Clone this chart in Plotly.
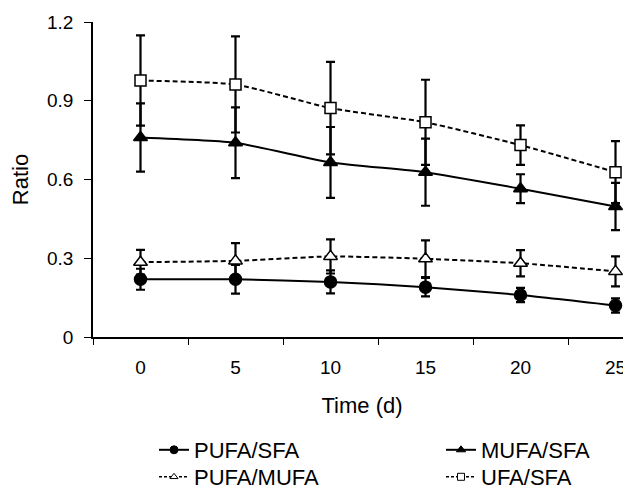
import plotly.graph_objects as go

time_labels = ["0", "5", "10", "15", "20", "25"]

pufa_sfa = [0.22, 0.22, 0.21, 0.19, 0.16, 0.12]
pufa_sfa_err = [0.04, 0.055, 0.044, 0.035, 0.027, 0.027]

mufa_sfa = [0.76, 0.74, 0.665, 0.628, 0.565, 0.497]
mufa_sfa_err = [0.13, 0.135, 0.135, 0.128, 0.055, 0.09]

pufa_mufa = [0.285, 0.29, 0.307, 0.298, 0.281, 0.25]
pufa_mufa_err = [0.047, 0.068, 0.065, 0.07, 0.05, 0.057]

ufa_sfa = [0.977, 0.962, 0.872, 0.818, 0.731, 0.628]
ufa_sfa_err = [0.172, 0.183, 0.176, 0.162, 0.075, 0.118]

FONT = "Liberation Sans, Arial, sans-serif"
FS_TICK = 19
FS_TITLE = 22

# page body has an 8px margin; figure shifted by 8px, so it is narrower
W, H = 623, 492
ML, MT, MB = 85, 14, 163
PW, PH = W - ML, H - MT - MB

series = [
    ("PUFA/SFA", pufa_sfa, pufa_sfa_err, "circle", "black", "solid", "legend", 8),
    ("MUFA/SFA", mufa_sfa, mufa_sfa_err, "triangle-up", "black", "solid", "legend2", 8),
    ("PUFA/MUFA", pufa_mufa, pufa_mufa_err, "triangle-up", "white", "3px,2px", "legend3", 7),
    ("UFA/SFA", ufa_sfa, ufa_sfa_err, "square", "white", "3px,2px", "legend4", 7),
]
main_dash = {"solid": "solid", "3px,2px": "5px,3px"}

fig = go.Figure()
for name, y, err, sym, fill, dash, leg, ls in series:
    fig.add_trace(go.Scatter(
        x=time_labels, y=y, name=name, mode="lines+markers", showlegend=False,
        line=dict(color="black", width=2, dash=main_dash[dash], shape="spline", smoothing=0.5),
        marker=dict(symbol=sym, size=12 if sym != "square" else 11, color=fill,
                    line=dict(color="black", width=1.5)),
        error_y=dict(type="data", array=err, visible=True, color="black", thickness=2.2, width=4.5),
    ))
# legend entries (smaller markers, as in the reference legend)
for name, y, err, sym, fill, dash, leg, ls in series:
    fig.add_trace(go.Scatter(
        x=[None], y=[None], name=name, mode="lines+markers", legend=leg,
        line=dict(color="black", width=1.5 if dash != "solid" else 2, dash=dash),
        marker=dict(symbol=sym, size=ls, color=fill, line=dict(color="black", width=1)),
    ))

legend_common = dict(orientation="v", xanchor="left", yanchor="top",
                     font=dict(size=FS_TITLE, family=FONT), tracegroupgap=0,
                     bgcolor="rgba(0,0,0,0)")

def px_x(page_x):
    return (page_x - 8 - ML) / PW

def px_y(page_y):
    return -((page_y - 8) - (MT + PH)) / PH

x_left, x_right = px_x(154), px_x(441)
y_row1, y_row2 = px_y(429), px_y(456)

fig.update_layout(
    width=W, height=H,
    margin=dict(l=ML, r=0, t=MT, b=MB, autoexpand=False),
    plot_bgcolor="white", paper_bgcolor="white",
    font=dict(family=FONT, size=FS_TICK, color="black"),
    showlegend=True,
    legend=dict(x=x_left, y=y_row1, **legend_common),
    legend2=dict(x=x_right, y=y_row1, **legend_common),
    legend3=dict(x=x_left, y=y_row2, **legend_common),
    legend4=dict(x=x_right, y=y_row2, **legend_common),
)
fig.update_xaxes(
    type="category", range=[-0.5, 5.163], showline=True, linecolor="black", linewidth=1.5,
    ticks="outside", tickson="boundaries", ticklen=6, tickcolor="black", tickwidth=1,
    showgrid=False, zeroline=False, automargin=False, ticklabelstandoff=12,
    title=dict(text="Time (d)", font=dict(size=FS_TITLE), standoff=21),
    tickfont=dict(size=FS_TICK),
)
fig.update_yaxes(
    range=[0, 1.2], tickvals=[0, 0.3, 0.6, 0.9, 1.2], ticktext=["0", "0.3", "0.6", "0.9", "1.2"],
    showline=True, linecolor="black", linewidth=1.5,
    ticks="outside", ticklen=7, tickcolor="black", tickwidth=1,
    showgrid=False, zeroline=False, automargin=False, ticklabelstandoff=7,
    title=dict(text="Ratio", font=dict(size=FS_TITLE), standoff=13),
    tickfont=dict(size=FS_TICK),
)

fig.write_html("out.html")
